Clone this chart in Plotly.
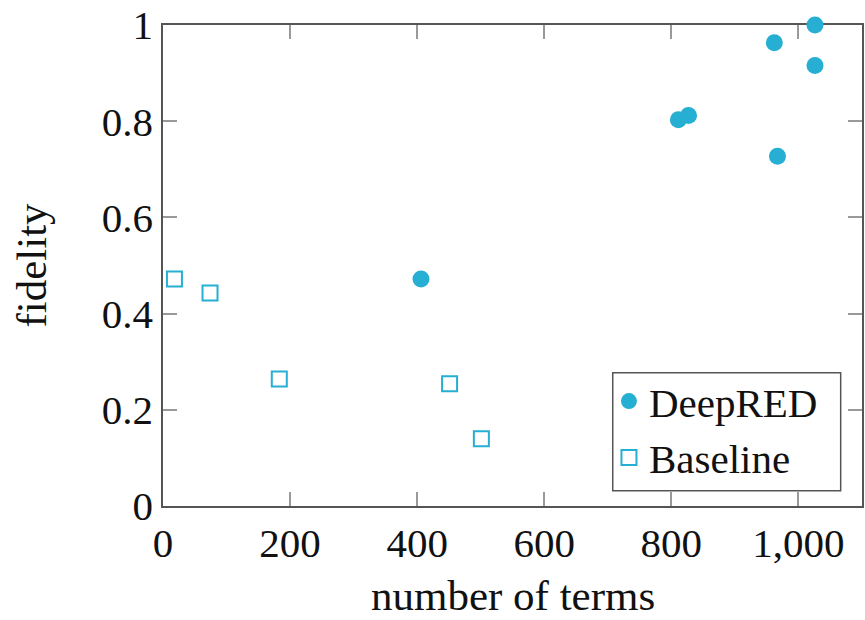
import plotly.graph_objects as go

deepred_terms = [1026, 962, 1026, 811, 827, 967, 406]
deepred_fidelity = [1.0, 0.963, 0.916, 0.803, 0.812, 0.727, 0.472]

baseline_terms = [18, 74, 183, 451, 501]
baseline_fidelity = [0.472, 0.443, 0.264, 0.254, 0.140]

x_ticks = [0, 200, 400, 600, 800, 1000]
x_tick_labels = ["0", "200", "400", "600", "800", "1,000"]
y_ticks = [0, 0.2, 0.4, 0.6, 0.8, 1.0]
y_tick_labels = ["0", "0.2", "0.4", "0.6", "0.8", "1"]

color = "#26AFD2"
font_family = "Liberation Serif, Times New Roman, serif"

fig = go.Figure()
fig.add_trace(go.Scatter(
    x=deepred_terms, y=deepred_fidelity, mode="markers", name="DeepRED",
    marker=dict(symbol="circle", size=17, color=color, line=dict(width=0)),
    cliponaxis=False,
))
fig.add_trace(go.Scatter(
    x=baseline_terms, y=baseline_fidelity, mode="markers", name="Baseline",
    marker=dict(symbol="square-open", size=15, color=color, line=dict(width=2, color=color)),
    cliponaxis=False,
))

axis_common = dict(
    showgrid=False, zeroline=False, showline=True, linecolor="#555555", linewidth=1.5,
    mirror="allticks", ticks="inside", ticklen=14, tickwidth=1.5, tickcolor="#999999",
    tickfont=dict(family=font_family, size=41, color="#111111"),
    layer="below traces", automargin=False,
)

fig.update_xaxes(
    range=[0, 1100], tickvals=x_ticks, ticktext=x_tick_labels,
    **axis_common,
)
fig.update_yaxes(
    range=[0, 1], tickvals=y_ticks, ticktext=y_tick_labels,
    title=dict(text="fidelity", font=dict(family=font_family, size=43, color="#111111"), standoff=42),
    **axis_common,
)

fig.add_annotation(
    text="number of terms", xref="paper", yref="paper", x=0.5, y=-0.236,
    xanchor="center", yanchor="bottom", showarrow=False, borderpad=0,
    font=dict(family=font_family, size=43, color="#111111"),
)

# legend frame
fig.add_shape(
    type="rect", xref="paper", yref="paper",
    x0=0.6434, x1=0.9695, y0=0.0318, y1=0.2771,
    line=dict(color="#555555", width=1.5), fillcolor="white", layer="above",
)

fig.update_layout(
    width=865, height=620,
    margin=dict(l=163, r=3, t=25, b=114),
    paper_bgcolor="white", plot_bgcolor="white",
    showlegend=True,
    legend=dict(
        x=0.638, y=0.287, xanchor="left", yanchor="top",
        borderwidth=0, bgcolor="rgba(0,0,0,0)",
        font=dict(family=font_family, size=41, color="#111111"),
        itemwidth=30,
    ),
)

fig.write_html("out.html")
